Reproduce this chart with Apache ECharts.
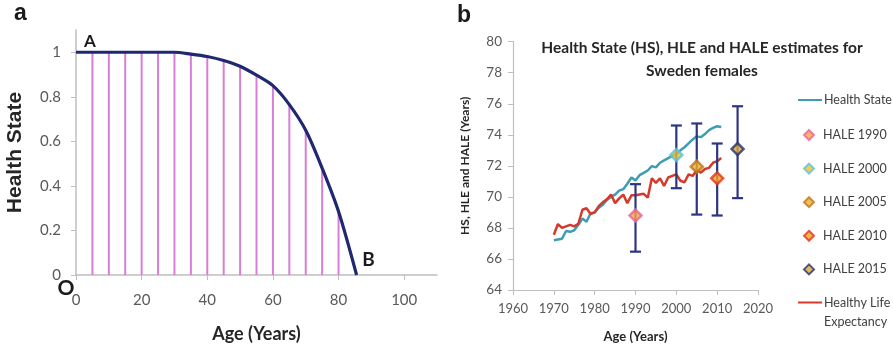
<!DOCTYPE html>
<html>
<head>
<meta charset="utf-8">
<script src="https://cdn.jsdelivr.net/npm/echarts@6/dist/echarts.min.js"></script>
<style>
  html, body { margin: 0; padding: 0; background: #fff; }
  #chart { width: 893px; height: 348px; }
</style>
</head>
<body>
<div id="chart"></div>
<script>
// Panel a: health state as a function of age
const ages = [0, 5, 10, 15, 20, 25, 30, 35, 40, 45, 50, 55, 60, 65, 70, 75, 80, 85.5];
const healthState = [1, 1, 1, 1, 1, 1, 1, 0.992, 0.981, 0.963, 0.937, 0.897, 0.85, 0.765, 0.65, 0.48, 0.285, 0];
const ageTicks = [0, 20, 40, 60, 80, 100];
const stateTicks = [0, 0.2, 0.4, 0.6, 0.8, 1];

// Panel b: Sweden females, 1970-2011
const years = [1970, 1971, 1972, 1973, 1974, 1975, 1976, 1977, 1978, 1979,
               1980, 1981, 1982, 1983, 1984, 1985, 1986, 1987, 1988, 1989,
               1990, 1991, 1992, 1993, 1994, 1995, 1996, 1997, 1998, 1999,
               2000, 2001, 2002, 2003, 2004, 2005, 2006, 2007, 2008, 2009,
               2010, 2011];
const hsValues = [67.2, 67.25, 67.3, 67.8, 67.75, 67.85, 68.2, 68.6, 68.4, 68.95,
                  69.0, 69.3, 69.5, 69.8, 70.0, 70.15, 70.4, 70.5, 70.85, 71.25,
                  71.05, 71.4, 71.55, 71.7, 71.98, 71.9, 72.2, 72.35, 72.5, 72.62,
                  72.75, 73.0, 73.2, 73.45, 73.7, 73.9, 73.85, 74.05, 74.3, 74.45,
                  74.55, 74.5];
const hleValues = [67.56, 68.25, 68.0, 68.1, 68.2, 68.1, 68.27, 69.17, 69.27, 68.9,
                   69.0, 69.4, 69.65, 69.85, 70.15, 69.6, 69.9, 70.15, 69.6, 70.1,
                   70.1, 70.15, 70.2, 69.95, 71.2, 70.9, 71.2, 70.7, 71.25, 71.35,
                   71.45, 71.04, 70.94, 71.45, 71.35, 71.73, 71.56, 71.8, 71.87, 72.2,
                   72.3, 72.5];
const haleYears = [1990, 2000, 2005, 2010, 2015];
const haleValues = [68.8, 72.7, 71.95, 71.2, 73.08];
const haleLower = [66.47, 70.56, 68.86, 68.8, 69.92];
const haleUpper = [70.82, 74.6, 74.73, 73.44, 75.84];
const haleNames = ['HALE 1990', 'HALE 2000', 'HALE 2005', 'HALE 2010', 'HALE 2015'];
const haleBorder = ['#f0609c', '#5cc0dc', '#c4721a', '#e0361e', '#26306e'];
const haleFill = ['#f8a640', '#e6c234', '#e8b22c', '#f8a024', '#d8aa34'];

const axisGray = '#bfbfbf';
const labelGray = '#595959';
const calibriLike = 'Lato, "Open Sans", sans-serif';
const arialLike = '"Liberation Sans", Arial, sans-serif';

const chart = echarts.init(document.getElementById('chart'));

const haleSeries = haleYears.map((y, i) => ({
  name: haleNames[i],
  type: 'scatter',
  xAxisIndex: 1,
  yAxisIndex: 1,
  symbol: 'diamond',
  symbolSize: 12,
  z: 5,
  itemStyle: { color: haleFill[i], borderColor: haleBorder[i], borderWidth: 2.5 },
  data: [[y, haleValues[i]]]
}));

const legendText = { fontFamily: calibriLike, fontSize: 12.5, color: '#404040' };

chart.setOption({
  animation: false,
  textStyle: { fontFamily: calibriLike },
  title: {
    text: 'Health State (HS), HLE and HALE estimates for\nSweden females',
    left: 702,
    top: 36,
    padding: 0,
    textAlign: 'center',
    textStyle: { fontFamily: calibriLike, fontSize: 15.5, fontWeight: 'bold', color: '#262626', lineHeight: 23 }
  },
  legend: [{
    // line entry: Health State
    orient: 'vertical',
    left: 797,
    top: 93,
    padding: 0,
    itemWidth: 24,
    itemHeight: 10,
    data: [{ name: 'Health State', itemStyle: { opacity: 0 } }],
    textStyle: Object.assign({ lineHeight: 14, padding: [0, 0, 0, -3] }, legendText)
  }, {
    // diamond entries: HALE estimates
    orient: 'vertical',
    left: 803,
    top: 128,
    padding: 0,
    itemWidth: 10,
    itemHeight: 10,
    itemGap: 19.6,
    data: haleNames,
    itemStyle: { borderWidth: 2 },
    textStyle: Object.assign({ lineHeight: 14, padding: [0, 0, 0, 4] }, legendText)
  }, {
    // line entry: Healthy Life Expectancy (two text lines, line icon beside the first)
    orient: 'vertical',
    left: 797,
    top: 274,
    padding: 0,
    itemWidth: 24,
    itemHeight: 10,
    data: [{ name: 'Healthy Life Expectancy', itemStyle: { opacity: 0 } }],
    formatter: () => '\nHealthy Life\nExpectancy',
    textStyle: Object.assign({ lineHeight: 19, padding: [0, 0, 0, -3] }, legendText)
  }],
  graphic: [
    { type: 'text', left: 14, top: 2, style: { text: 'a', fontFamily: arialLike, fontWeight: 'bold', fontSize: 23, fill: '#1a1a1a' } },
    { type: 'text', left: 457, top: 4, style: { text: 'b', fontFamily: arialLike, fontWeight: 'bold', fontSize: 23, fill: '#1a1a1a' } }
  ],
  grid: [
    { left: 76, right: 456, top: 30, bottom: 65 },
    { left: 513, right: 135, top: 41.7, bottom: 50.3 }
  ],
  xAxis: [{
    gridIndex: 0,
    type: 'value',
    min: 0,
    max: 110,
    name: 'Age (Years)',
    nameLocation: 'middle',
    nameGap: 50,
    nameTextStyle: { fontFamily: calibriLike, fontSize: 18, fontWeight: 'bold', color: '#262626' },
    splitLine: { show: false },
    axisLine: { lineStyle: { color: axisGray, width: 1.5 } },
    axisTick: { customValues: ageTicks, length: 5, lineStyle: { color: axisGray } },
    axisLabel: { customValues: ageTicks, fontSize: 15, color: labelGray, margin: 18 }
  }, {
    gridIndex: 1,
    type: 'value',
    min: 1960,
    max: 2020,
    interval: 10,
    name: 'Age (Years)',
    nameLocation: 'middle',
    nameGap: 40,
    nameTextStyle: { fontFamily: calibriLike, fontSize: 13, fontWeight: 'bold', color: '#262626' },
    splitLine: { show: false },
    axisLine: { lineStyle: { color: axisGray, width: 1.2 } },
    axisTick: { length: 5, lineStyle: { color: axisGray } },
    axisLabel: { fontSize: 13, color: labelGray, margin: 12, formatter: v => String(v) }
  }],
  yAxis: [{
    gridIndex: 0,
    type: 'value',
    min: 0,
    max: 1.1,
    name: 'Health State',
    nameLocation: 'middle',
    nameGap: 50,
    nameTextStyle: { fontFamily: arialLike, fontSize: 21, fontWeight: 'bold', color: '#262626' },
    splitLine: { show: false },
    axisLine: { show: true, lineStyle: { color: axisGray, width: 1.5 } },
    axisTick: { show: true, customValues: stateTicks, length: 5, lineStyle: { color: axisGray } },
    axisLabel: { customValues: stateTicks, fontSize: 15, color: labelGray, margin: 15 }
  }, {
    gridIndex: 1,
    type: 'value',
    min: 64,
    max: 80,
    interval: 2,
    name: 'HS, HLE and HALE (Years)',
    nameLocation: 'middle',
    nameGap: 42,
    nameTextStyle: { fontFamily: calibriLike, fontSize: 12, fontWeight: 'bold', color: '#262626' },
    splitLine: { show: false },
    axisLine: { show: true, lineStyle: { color: axisGray, width: 1.2 } },
    axisTick: { show: true, length: 5, lineStyle: { color: axisGray } },
    axisLabel: { fontSize: 13.5, color: labelGray, margin: 11 }
  }],
  series: [
    {
      // vertical strips under the health-state curve
      name: 'strips',
      type: 'bar',
      xAxisIndex: 0,
      yAxisIndex: 0,
      barWidth: 2,
      itemStyle: { color: '#d67ed8' },
      data: ages.slice(1, 17).map((a, i) => [a, healthState[i + 1]])
    },
    {
      name: 'curve',
      type: 'line',
      xAxisIndex: 0,
      yAxisIndex: 0,
      smooth: 0.3,
      symbol: 'none',
      lineStyle: { color: '#1f2870', width: 3.2 },
      z: 4,
      data: ages.map((a, i) => [a, healthState[i]]),
      markPoint: {
        symbol: 'circle',
        symbolSize: 0,
        label: { show: true, formatter: '{b}', fontFamily: calibriLike, fontWeight: 'bold', color: '#1a1a1a' },
        data: [
          { name: 'A', coord: [ages[0], healthState[0]], label: { offset: [14, -11], fontSize: 17 } },
          { name: 'B', coord: [ages[ages.length - 1], healthState[healthState.length - 1]], label: { offset: [12, -15], fontSize: 19 } },
          { name: 'O', coord: [0, 0], label: { offset: [-10, 13], fontSize: 21 } }
        ]
      }
    },
    {
      name: 'Health State',
      type: 'line',
      xAxisIndex: 1,
      yAxisIndex: 1,
      symbol: 'none',
      lineStyle: { color: '#3d9db5', width: 2.5 },
      itemStyle: { color: '#3d9db5' },
      data: years.map((y, i) => [y, hsValues[i]])
    },
    {
      name: 'Healthy Life Expectancy',
      type: 'line',
      xAxisIndex: 1,
      yAxisIndex: 1,
      symbol: 'none',
      lineStyle: { color: '#d5392b', width: 2.5 },
      itemStyle: { color: '#d5392b' },
      data: years.map((y, i) => [y, hleValues[i]])
    },
    {
      // HALE uncertainty intervals
      name: 'intervals',
      type: 'custom',
      xAxisIndex: 1,
      yAxisIndex: 1,
      z: 4,
      encode: { x: 0, y: [1, 2] },
      data: haleYears.map((y, i) => [y, haleLower[i], haleUpper[i]]),
      renderItem: (params, api) => {
        const lo = api.coord([api.value(0), api.value(1)]);
        const hi = api.coord([api.value(0), api.value(2)]);
        const half = 5.5;
        const style = { stroke: '#2c3581', lineWidth: 2.2 };
        return {
          type: 'group',
          children: [
            { type: 'line', shape: { x1: lo[0], y1: lo[1], x2: hi[0], y2: hi[1] }, style },
            { type: 'line', shape: { x1: lo[0] - half, y1: lo[1], x2: lo[0] + half, y2: lo[1] }, style },
            { type: 'line', shape: { x1: hi[0] - half, y1: hi[1], x2: hi[0] + half, y2: hi[1] }, style }
          ]
        };
      }
    },
    ...haleSeries
  ]
});
</script>
</body>
</html>
